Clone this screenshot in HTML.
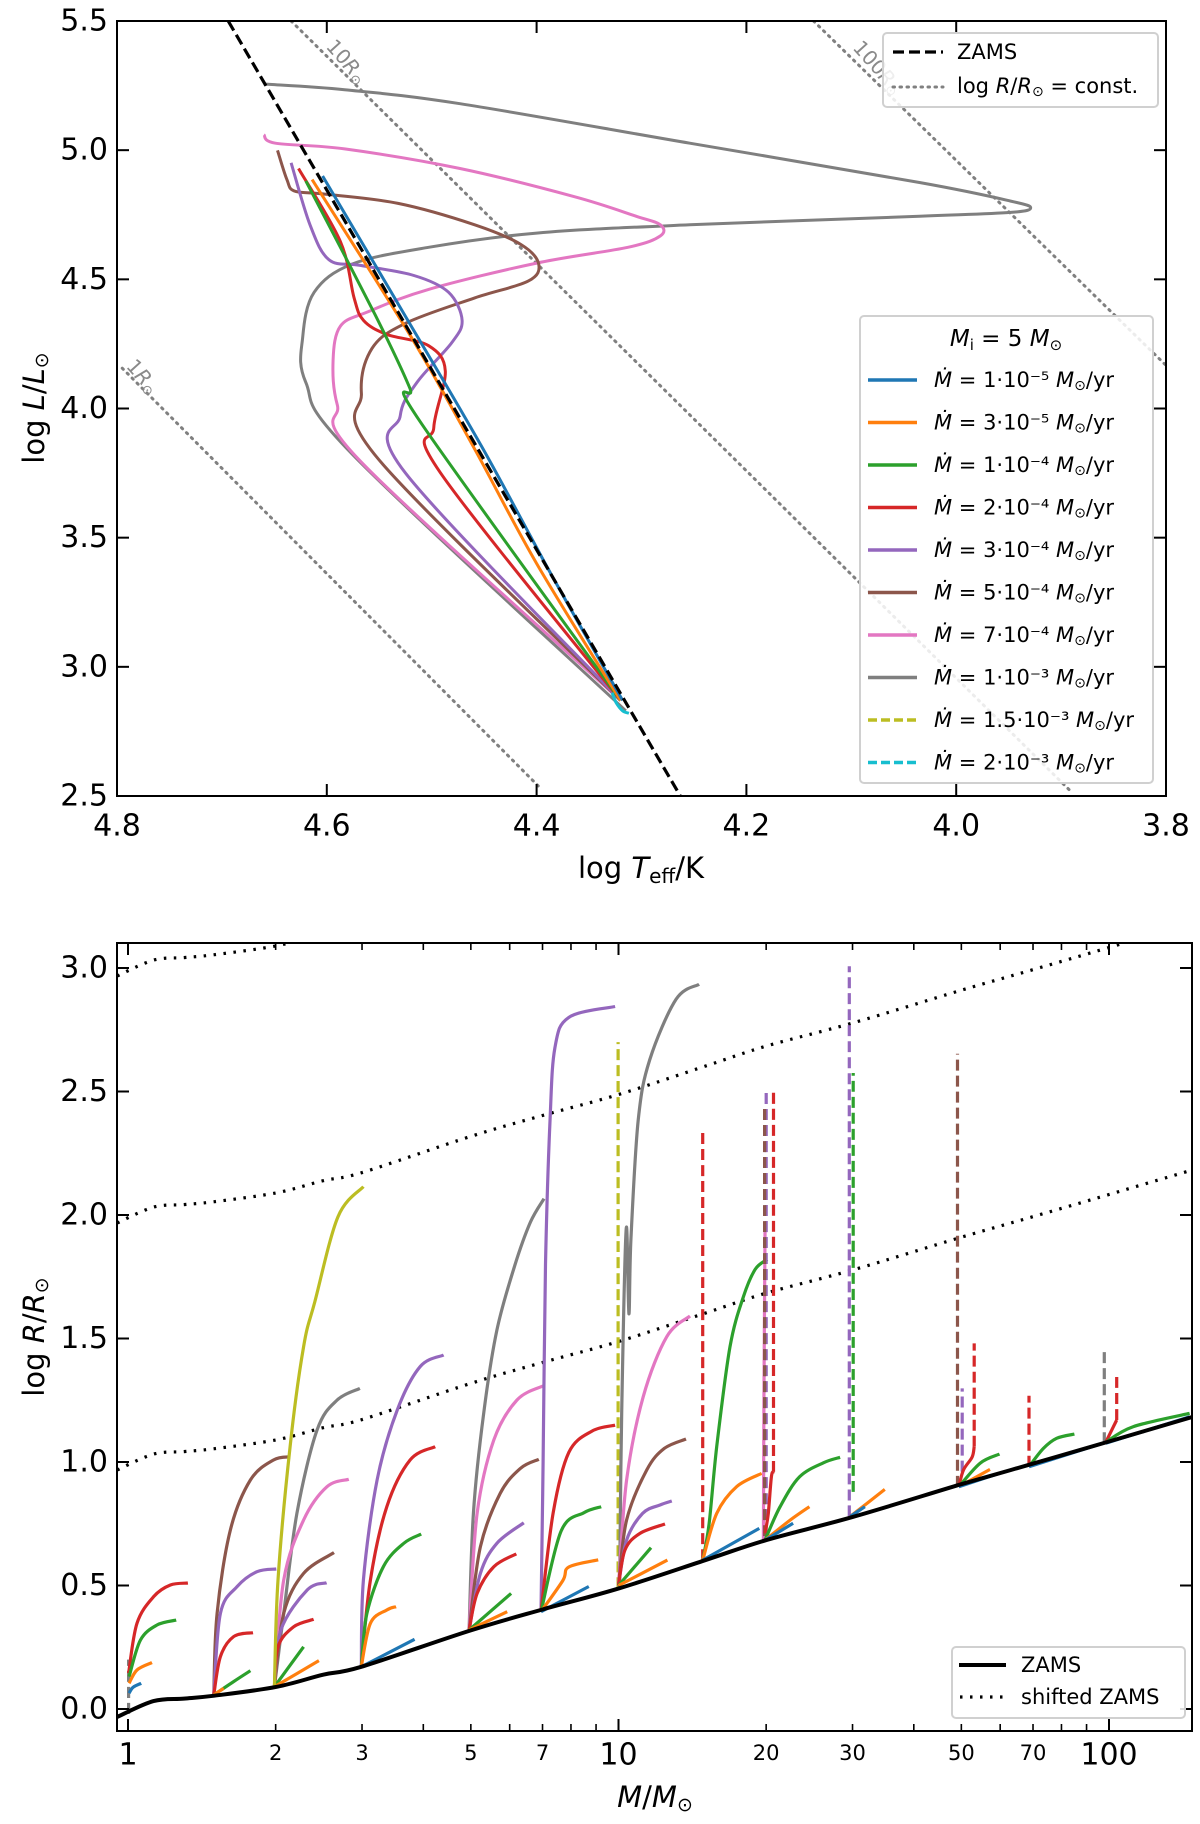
<!DOCTYPE html>
<html><head><meta charset="utf-8">
<style>
html,body{margin:0;padding:0;background:#fff;}
svg{display:block;font-family:"DejaVu Sans","Liberation Sans",sans-serif;}
</style></head>
<body>
<svg id="fig" width="1200" height="1824" viewBox="0 0 1200 1824" xmlns="http://www.w3.org/2000/svg">
<defs>
<clipPath id="clipTop"><rect x="117" y="21" width="1049" height="775"/></clipPath>
<clipPath id="clipBot"><rect x="117" y="943" width="1075" height="788"/></clipPath>
</defs>
<g id="topPanel"></g>
<g id="botPanel"></g>
</svg>
<script>
// ---------- TOP PANEL DATA ----------
const topXTicks = [4.8, 4.6, 4.4, 4.2, 4.0, 3.8];
const topXTickLabels = ["4.8","4.6","4.4","4.2","4.0","3.8"];
const topYTicks = [5.5, 5.0, 4.5, 4.0, 3.5, 3.0, 2.5];
const topYTickLabels = ["5.5","5.0","4.5","4.0","3.5","3.0","2.5"];
const zamsT = [4.694, 4.263];
const zamsL = [5.5, 2.5];
const r1T = [4.795, 4.397];  const r1L = [4.156, 2.533];
const r10T = [4.634, 3.889]; const r10L = [5.5, 2.511];
const r100T = [4.136, 3.800]; const r100L = [5.5, 4.167];
const hrBlueT = [4.318,4.385,4.452,4.524,4.604];
const hrBlueL = [2.87,3.35,3.85,4.35,4.90];
const hrOrangeT = [4.32,4.40,4.46,4.52,4.614];
const hrOrangeL = [2.87,3.40,3.85,4.28,4.886];
const hrGreenT = [4.32,4.511,4.521,4.554,4.620];
const hrGreenL = [2.87,3.949,4.080,4.363,4.881];
const hrRedT = [4.32,4.492,4.498,4.487,4.503,4.543,4.565,4.574,4.587,4.627];
const hrRedL = [2.87,3.753,3.927,4.145,4.243,4.287,4.341,4.428,4.646,4.929];
const hrPurpleT = [4.32,4.525,4.530,4.514,4.481,4.471,4.484,4.517,4.568,4.598,4.616,4.634];
const hrPurpleL = [2.87,3.75,3.971,4.101,4.254,4.341,4.450,4.515,4.554,4.576,4.711,4.951];
const hrBrownT = [4.32,4.55,4.567,4.557,4.525,4.459,4.408,4.398,4.415,4.459,4.532,4.605,4.631,4.638,4.647];
const hrBrownL = [2.87,3.80,4.058,4.232,4.330,4.428,4.493,4.559,4.635,4.711,4.794,4.831,4.842,4.886,4.999];
const hrPinkT = [4.32,4.568,4.590,4.594,4.587,4.561,4.503,4.400,4.313,4.282,4.282,4.305,4.364,4.473,4.583,4.649,4.660];
const hrPinkL = [2.87,3.796,4.014,4.188,4.319,4.374,4.461,4.563,4.624,4.668,4.711,4.744,4.820,4.929,5.005,5.027,5.060];
const hrGrayT = [4.315,4.575,4.620,4.623,4.612,4.576,4.503,4.400,4.254,4.035,3.948,3.929,3.948,4.035,4.254,4.473,4.583,4.660];
const hrGrayL = [2.83,3.82,4.101,4.276,4.450,4.559,4.624,4.679,4.711,4.744,4.759,4.777,4.803,4.875,5.027,5.180,5.234,5.256];
const hrCyanT = [4.328,4.324,4.318,4.312];
const hrCyanL = [2.90,2.86,2.83,2.82];
const legendRates = ["1·10⁻⁵","3·10⁻⁵","1·10⁻⁴","2·10⁻⁴","3·10⁻⁴","5·10⁻⁴","7·10⁻⁴","1·10⁻³","1.5·10⁻³","2·10⁻³"];

// ---------- BOTTOM PANEL DATA ----------
const botYTicks = [0.0,0.5,1.0,1.5,2.0,2.5,3.0];
const botYTickLabels = ["0.0","0.5","1.0","1.5","2.0","2.5","3.0"];
const botMajorTicks = [1,10,100];
const botMajorLabels = ["1","10","100"];
const botMinorLabeled = [2,3,5,7,20,30,50,70];
const botMinorLabels = ["2","3","5","7","20","30","50","70"];
const botMinorUnlabeled = [4,6,8,9,40,60,80,90];
const zamsM = [0.951,1.127,1.30,1.50,2.01,2.50,2.99,4.99,7.0,10.05,15.1,20.1,30.1,50.0,70.5,100,150];
const zamsR = [-0.032,0.032,0.042,0.054,0.090,0.139,0.171,0.318,0.403,0.489,0.604,0.685,0.778,0.910,0.995,1.083,1.186];
const zamsShifts = [1,2,3];

const C = {blue:"#1f77b4",orange:"#ff7f0e",green:"#2ca02c",red:"#d62728",purple:"#9467bd",brown:"#8c564b",pink:"#e377c2",gray:"#7f7f7f",olive:"#bcbd22",cyan:"#17becf"};

const bTracks = [
 {c:"gray",d:1,m:[1.003,1.003],r:[-0.02,0.20]},
 {c:"red",m:[1.003,1.043,1.128,1.22,1.325],r:[0.145,0.347,0.455,0.502,0.510]},
 {c:"green",m:[1.005,1.06,1.146,1.254],r:[0.131,0.279,0.340,0.360]},
 {c:"orange",m:[1.005,1.043,1.119],r:[0.104,0.158,0.188]},
 {c:"blue",m:[1.005,1.024,1.064],r:[0.064,0.088,0.104]},
 {c:"brown",m:[1.496,1.519,1.617,1.776,1.98,2.14],r:[0.057,0.387,0.725,0.927,1.008,1.021]},
 {c:"purple",m:[1.496,1.543,1.668,1.832,2.006],r:[0.057,0.387,0.495,0.556,0.567]},
 {c:"red",m:[1.496,1.543,1.642,1.798],r:[0.057,0.212,0.293,0.309]},
 {c:"green",m:[1.496,1.642,1.776],r:[0.057,0.111,0.155]},
 {c:"orange",m:[1.496,1.567],r:[0.057,0.084]},
 {c:"gray",m:[1.988,2.077,2.21,2.43,2.67,2.97],r:[0.09,0.387,0.792,1.130,1.251,1.298]},
 {c:"pink",m:[1.988,2.077,2.28,2.545,2.82],r:[0.09,0.522,0.765,0.900,0.930]},
 {c:"brown",m:[1.988,2.077,2.28,2.63],r:[0.09,0.387,0.549,0.633]},
 {c:"purple",m:[1.988,2.05,2.32,2.54],r:[0.09,0.320,0.482,0.511]},
 {c:"red",m:[1.988,2.022,2.177,2.39],r:[0.09,0.252,0.333,0.363]},
 {c:"green",m:[1.988,2.28],r:[0.09,0.252]},
 {c:"orange",m:[1.988,2.45],r:[0.09,0.196]},
 {c:"olive",m:[1.988,2.022,2.14,2.28,2.405,2.68,3.02],r:[0.09,0.522,1.062,1.467,1.65,1.993,2.115]},
 {c:"purple",m:[2.99,3.02,3.22,3.54,3.94,4.40],r:[0.171,0.522,0.927,1.211,1.386,1.433]},
 {c:"red",m:[2.99,3.12,3.37,3.76,4.23],r:[0.171,0.522,0.819,1.008,1.062]},
 {c:"green",m:[2.99,3.07,3.32,3.65,3.96],r:[0.171,0.387,0.578,0.671,0.708]},
 {c:"orange",m:[2.99,3.12,3.37,3.52],r:[0.171,0.347,0.401,0.414]},
 {c:"blue",m:[2.99,3.84],r:[0.171,0.282]},
 {c:"gray",m:[4.96,5.06,5.31,5.65,6.15,6.61,7.05],r:[0.32,0.792,1.197,1.534,1.797,1.97,2.066]},
 {c:"pink",m:[4.96,5.15,5.57,6.21,7.02],r:[0.32,0.792,1.089,1.251,1.308]},
 {c:"brown",m:[4.96,5.23,5.74,6.31,6.88],r:[0.32,0.657,0.873,0.974,1.011]},
 {c:"purple",m:[4.96,5.23,5.65,6.41],r:[0.32,0.549,0.671,0.754]},
 {c:"red",m:[4.96,5.15,5.57,6.19],r:[0.32,0.468,0.576,0.628]},
 {c:"green",m:[4.96,6.04],r:[0.32,0.468]},
 {c:"orange",m:[4.96,5.93],r:[0.32,0.394]},
 {c:"purple",m:[6.95,7.02,7.1,7.25,7.42,7.92,9.84],r:[0.394,1.0,1.8,2.38,2.677,2.80,2.844]},
 {c:"red",m:[6.95,7.36,7.92,8.83,9.84],r:[0.394,0.795,1.039,1.125,1.149]},
 {c:"green",m:[6.95,7.64,8.51,9.22],r:[0.394,0.721,0.795,0.819]},
 {c:"orange",m:[6.95,7.7,7.92,9.09],r:[0.394,0.52,0.575,0.604]},
 {c:"blue",m:[6.95,8.7],r:[0.394,0.496]},
 {c:"olive",d:1,m:[9.98,9.98],r:[0.489,2.70]},
 {c:"gray",m:[10.05,10.15,10.37,10.5,10.6,10.97,11.58,13.1,14.6],r:[0.489,1.2,1.944,1.60,1.9,2.384,2.628,2.873,2.934]},
 {c:"pink",m:[10.0,10.39,11.23,12.54,13.99],r:[0.50,0.927,1.264,1.507,1.591]},
 {c:"brown",m:[10.0,10.39,11.42,12.4,13.73],r:[0.50,0.765,0.968,1.055,1.093]},
 {c:"purple",m:[10.0,10.39,11.2,12.15,12.84],r:[0.50,0.684,0.792,0.826,0.842]},
 {c:"red",m:[10.0,10.31,11.06,12.44],r:[0.50,0.644,0.711,0.749]},
 {c:"green",m:[10.0,11.65],r:[0.50,0.653]},
 {c:"orange",m:[10.0,12.58],r:[0.50,0.603]},
 {c:"red",d:1,m:[14.85,14.85],r:[0.603,2.347]},
 {c:"green",m:[14.85,15.3,15.86,16.88,17.97,19.0,20.1],r:[0.603,0.75,1.062,1.467,1.669,1.78,1.82]},
 {c:"orange",m:[14.85,15.86,17.41,19.59],r:[0.603,0.792,0.900,0.954]},
 {c:"blue",m:[14.85,19.37],r:[0.603,0.731]},
 {c:"pink",m:[19.74,19.8,19.9],r:[0.684,1.3,1.97]},
 {c:"purple",d:1,m:[20.0,20.0],r:[0.70,2.506]},
 {c:"brown",d:1,m:[19.85,19.85],r:[0.70,2.445]},
 {c:"red",m:[19.9,20.2,20.5,20.7],r:[0.711,0.792,0.940,0.96]},
 {c:"red",d:1,m:[20.7,20.7],r:[0.96,2.506]},
 {c:"green",m:[19.9,21.35,23.4,26.2,28.3],r:[0.684,0.819,0.940,0.997,1.019]},
 {c:"orange",m:[19.9,22.4,24.5],r:[0.684,0.765,0.819]},
 {c:"blue",m:[19.9,22.7],r:[0.684,0.752]},
 {c:"purple",d:1,m:[29.55,29.55],r:[0.78,3.007]},
 {c:"green",d:1,m:[30.1,30.1],r:[0.879,2.575]},
 {c:"orange",m:[29.7,34.9],r:[0.78,0.889]},
 {c:"blue",m:[29.7,31.8],r:[0.78,0.819]},
 {c:"brown",d:1,m:[49.1,49.1],r:[0.90,2.653]},
 {c:"purple",d:1,m:[50.2,50.2],r:[0.961,1.298]},
 {c:"red",m:[49.4,50.5,52.6,53.1],r:[0.90,0.968,1.02,1.062]},
 {c:"red",d:1,m:[53.1,53.1],r:[1.062,1.48]},
 {c:"green",m:[49.4,54.6,59.8],r:[0.90,0.995,1.032]},
 {c:"orange",m:[49.4,57.2],r:[0.90,0.970]},
 {c:"blue",m:[49.4,60],r:[0.90,0.955]},
 {c:"red",d:1,m:[68.7,68.7],r:[0.981,1.268]},
 {c:"green",m:[68.7,73.5,78.2,85.0],r:[0.981,1.055,1.096,1.113]},
 {c:"blue",m:[68.7,95],r:[0.981,1.07]},
 {c:"gray",d:1,m:[97.8,97.8],r:[1.076,1.46]},
 {c:"red",m:[98.5,103.7],r:[1.08,1.170]},
 {c:"red",d:1,m:[103.7,103.7],r:[1.170,1.345]},
 {c:"blue",m:[98.5,146],r:[1.076,1.183]},
 {c:"green",m:[98.5,112,146],r:[1.08,1.143,1.197]}
];

// ---------- helpers ----------
const NS = "http://www.w3.org/2000/svg";
function el(tag, attrs, parent){
  const e = document.createElementNS(NS, tag);
  for (const k in attrs) e.setAttribute(k, attrs[k]);
  parent.appendChild(e);
  return e;
}
function smooth(pts){
  let d = "M" + pts[0][0].toFixed(1) + "," + pts[0][1].toFixed(1);
  for (let i = 0; i < pts.length - 1; i++){
    const p0 = pts[i-1] || pts[i], p1 = pts[i], p2 = pts[i+1], p3 = pts[i+2] || pts[i+1];
    const c1x = p1[0] + (p2[0]-p0[0])/6, c1y = p1[1] + (p2[1]-p0[1])/6;
    const c2x = p2[0] - (p3[0]-p1[0])/6, c2y = p2[1] - (p3[1]-p1[1])/6;
    d += " C" + c1x.toFixed(1)+","+c1y.toFixed(1)+" "+c2x.toFixed(1)+","+c2y.toFixed(1)+" "+p2[0].toFixed(1)+","+p2[1].toFixed(1);
  }
  return d;
}

// ---------- TOP PANEL ----------
const X0=117, X1=1166, Y0=21, Y1=796;
const xT = t => X0 + (4.8 - t) * (X1-X0) / 1.0;
const yL = l => Y0 + (5.5 - l) * (Y1-Y0) / 3.0;
const topG = document.getElementById("topPanel");
const topPlot = el("g", {"clip-path":"url(#clipTop)"}, topG);



function topLine(T, L, attrs, name){
  const pts = T.map((t,i)=>[xT(t), yL(L[i])]);
  const p = el("path", Object.assign({d: smooth(pts), fill:"none"}, attrs), topPlot);
  
  
  return p;
}
[[r1T,r1L,"radius-line-1rsun"],[r10T,r10L,"radius-line-10rsun"],[r100T,r100L,"radius-line-100rsun"]].forEach(a=>{
  const ln = el("line",{x1:xT(a[0][0]),y1:yL(a[1][0]),x2:xT(a[0][1]),y2:yL(a[1][1]),stroke:"#808080","stroke-width":3,"stroke-dasharray":"1.5 5.5","stroke-linecap":"round"},topPlot);
  
  
});
[["10R","346","62"],["100R","877","68"],["1R","142","377"]].forEach(a=>{
  const t = el("text",{x:a[1],y:a[2],"font-size":20,fill:"#8a8a8a","text-anchor":"middle","dominant-baseline":"middle",transform:`rotate(48 ${a[1]} ${a[2]})`},topG);
  
  
  t.innerHTML = a[0].replace("R","<tspan font-style='italic'>R</tspan>") + "<tspan font-size='13' dy='5'>⊙</tspan>";
});
topLine(hrGrayT, hrGrayL, {stroke:C.gray,"stroke-width":3}, "hr-track-1e-3");
topLine(hrPinkT, hrPinkL, {stroke:C.pink,"stroke-width":3}, "hr-track-7e-4");
topLine(hrBrownT, hrBrownL, {stroke:C.brown,"stroke-width":3}, "hr-track-5e-4");
topLine(hrPurpleT, hrPurpleL, {stroke:C.purple,"stroke-width":3}, "hr-track-3e-4");
topLine(hrRedT, hrRedL, {stroke:C.red,"stroke-width":3}, "hr-track-2e-4");
topLine(hrGreenT, hrGreenL, {stroke:C.green,"stroke-width":3}, "hr-track-1e-4");
topLine(hrOrangeT, hrOrangeL, {stroke:C.orange,"stroke-width":3}, "hr-track-3e-5");
topLine(hrBlueT, hrBlueL, {stroke:C.blue,"stroke-width":3}, "hr-track-1e-5");
topLine(hrCyanT, hrCyanL, {stroke:C.cyan,"stroke-width":3}, "hr-track-2e-3");
const zl = el("line",{x1:xT(zamsT[0]),y1:yL(zamsL[0]),x2:xT(zamsT[1]),y2:yL(zamsL[1]),stroke:"#000","stroke-width":3.2,"stroke-dasharray":"11 5"},topPlot);



const tf = el("rect",{x:X0,y:Y0,width:X1-X0,height:Y1-Y0,fill:"none",stroke:"#000","stroke-width":2},topG);


topXTicks.forEach((v,i)=>{
  const x = xT(v);
  el("line",{x1:x,y1:Y1,x2:x,y2:Y1-12,stroke:"#000","stroke-width":2},topG);
  el("line",{x1:x,y1:Y0,x2:x,y2:Y0+12,stroke:"#000","stroke-width":2},topG);
  const t = el("text",{x:x,y:827,"font-size":30,"text-anchor":"middle","dominant-baseline":"middle"},topG);
  
  
  t.textContent = topXTickLabels[i];
});
topYTicks.forEach((v,i)=>{
  const y = yL(v);
  el("line",{x1:X0,y1:y,x2:X0+12,y2:y,stroke:"#000","stroke-width":2},topG);
  el("line",{x1:X1,y1:y,x2:X1-12,y2:y,stroke:"#000","stroke-width":2},topG);
  const t = el("text",{x:108,y:y+1,"font-size":30,"text-anchor":"end","dominant-baseline":"middle"},topG);
  
  
  t.textContent = topYTickLabels[i];
});
const txl = el("text",{x:641,y:870,"font-size":29,"text-anchor":"middle","dominant-baseline":"middle"},topG);


txl.innerHTML = "log <tspan font-style='italic'>T</tspan><tspan font-size='20' dy='7'>eff</tspan><tspan dy='-7'>/K</tspan>";
const tyl = el("text",{x:36,y:408,"font-size":29,"text-anchor":"middle","dominant-baseline":"middle",transform:"rotate(-90 36 408)"},topG);


tyl.innerHTML = "log <tspan font-style='italic'>L</tspan>/<tspan font-style='italic'>L</tspan><tspan font-size='19' dy='6'>⊙</tspan>";

const lg1 = el("g",{},topG);


el("rect",{x:883,y:33,width:275,height:74,rx:4,fill:"#fff","fill-opacity":0.85,stroke:"#d0d0d0","stroke-width":2},lg1);
el("line",{x1:893,y1:52,x2:943,y2:52,stroke:"#000","stroke-width":3.2,"stroke-dasharray":"11 5"},lg1);
el("line",{x1:893,y1:87,x2:943,y2:87,stroke:"#808080","stroke-width":3,"stroke-dasharray":"1.5 5.5","stroke-linecap":"round"},lg1);
const l1a = el("text",{x:957,y:53,"font-size":21,"dominant-baseline":"middle"},lg1);


l1a.textContent = "ZAMS";
const l1b = el("text",{x:957,y:87,"font-size":21,"dominant-baseline":"middle"},lg1);


l1b.innerHTML = "log <tspan font-style='italic'>R</tspan>/<tspan font-style='italic'>R</tspan><tspan font-size='14' dy='5'>⊙</tspan><tspan dy='-5'> =  const.</tspan>";

const lg2 = el("g",{},topG);


el("rect",{x:860,y:316,width:293,height:467,rx:4,fill:"#fff","fill-opacity":0.85,stroke:"#d0d0d0","stroke-width":2},lg2);
const ttl = el("text",{x:1006,y:339,"font-size":23,"text-anchor":"middle","dominant-baseline":"middle"},lg2);


ttl.innerHTML = "<tspan font-style='italic'>M</tspan><tspan font-size='15' dy='6'>i</tspan><tspan dy='-6'> = 5 </tspan><tspan font-style='italic'>M</tspan><tspan font-size='15' dy='6'>⊙</tspan>";
const legColors = [C.blue,C.orange,C.green,C.red,C.purple,C.brown,C.pink,C.gray,C.olive,C.cyan];
legendRates.forEach((r,i)=>{
  const y = 380 + i*42.5;
  const ln = el("line",{x1:868,y1:y,x2:917,y2:y,stroke:legColors[i],"stroke-width":3.5},lg2);
  if (i>=8) ln.setAttribute("stroke-dasharray","9 4");
  
  
  const t = el("text",{x:934,y:y+1,"font-size":21,"dominant-baseline":"middle"},lg2);
  
  
  t.innerHTML = "<tspan font-style='italic'>Ṁ</tspan> = " + r + " <tspan font-style='italic'>M</tspan><tspan font-size='14' dy='5'>⊙</tspan><tspan dy='-5'>/yr</tspan>";
});

// ---------- BOTTOM PANEL ----------
const BX0=117, BX1=1192, BY0=943, BY1=1731;
const xM = m => 128 + Math.log10(m) * 490.5;
const yR = r => 1709 - r * 247;
const botG = document.getElementById("botPanel");
const botPlot = el("g", {"clip-path":"url(#clipBot)"}, botG);



zamsShifts.forEach(s=>{
  const pts = zamsM.map((m,i)=>[xM(m), yR(zamsR[i]+s)]);
  const p = el("path",{d:smooth(pts),fill:"none",stroke:"#000","stroke-width":3.2,"stroke-dasharray":"2.5 7.5"},botPlot);
  
  
});
bTracks.forEach(tr=>{
  const pts = tr.m.map((m,i)=>[xM(m), yR(tr.r[i])]);
  const p = el("path",{d:smooth(pts),fill:"none",stroke:C[tr.c],"stroke-width":3.2},botPlot);
  if (tr.d) p.setAttribute("stroke-dasharray","11 5");
  
  
});
{
  const pts = zamsM.map((m,i)=>[xM(m), yR(zamsR[i])]);
  const p = el("path",{d:smooth(pts),fill:"none",stroke:"#000","stroke-width":4},botPlot);
  
  
}
const bf = el("rect",{x:BX0,y:BY0,width:BX1-BX0,height:BY1-BY0,fill:"none",stroke:"#000","stroke-width":2},botG);


botYTicks.forEach((v,i)=>{
  const y = yR(v);
  el("line",{x1:BX0,y1:y,x2:BX0+12,y2:y,stroke:"#000","stroke-width":2},botG);
  el("line",{x1:BX1,y1:y,x2:BX1-12,y2:y,stroke:"#000","stroke-width":2},botG);
  const t = el("text",{x:108,y:y+1,"font-size":30,"text-anchor":"end","dominant-baseline":"middle"},botG);
  
  
  t.textContent = botYTickLabels[i];
});
botMajorTicks.forEach((v,i)=>{
  const x = xM(v);
  el("line",{x1:x,y1:BY1,x2:x,y2:BY1-12,stroke:"#000","stroke-width":2},botG);
  el("line",{x1:x,y1:BY0,x2:x,y2:BY0+12,stroke:"#000","stroke-width":2},botG);
  const t = el("text",{x:x,y:1756,"font-size":30,"text-anchor":"middle","dominant-baseline":"middle"},botG);
  
  
  t.textContent = botMajorLabels[i];
});
botMinorLabeled.forEach((v,i)=>{
  const x = xM(v);
  el("line",{x1:x,y1:BY1,x2:x,y2:BY1-7,stroke:"#000","stroke-width":1.6},botG);
  el("line",{x1:x,y1:BY0,x2:x,y2:BY0+7,stroke:"#000","stroke-width":1.6},botG);
  const t = el("text",{x:x,y:1754,"font-size":21,"text-anchor":"middle","dominant-baseline":"middle"},botG);
  
  
  t.textContent = botMinorLabels[i];
});
botMinorUnlabeled.forEach(v=>{
  const x = xM(v);
  el("line",{x1:x,y1:BY1,x2:x,y2:BY1-7,stroke:"#000","stroke-width":1.6},botG);
  el("line",{x1:x,y1:BY0,x2:x,y2:BY0+7,stroke:"#000","stroke-width":1.6},botG);
});
const bxl = el("text",{x:655,y:1799,"font-size":29,"text-anchor":"middle","dominant-baseline":"middle"},botG);


bxl.innerHTML = "<tspan font-style='italic'>M</tspan>/<tspan font-style='italic'>M</tspan><tspan font-size='19' dy='6'>⊙</tspan>";
const byl = el("text",{x:36,y:1337,"font-size":29,"text-anchor":"middle","dominant-baseline":"middle",transform:"rotate(-90 36 1337)"},botG);


byl.innerHTML = "log <tspan font-style='italic'>R</tspan>/<tspan font-style='italic'>R</tspan><tspan font-size='19' dy='6'>⊙</tspan>";

const lg3 = el("g",{},botG);


el("rect",{x:952,y:1647,width:233,height:71,rx:4,fill:"#fff","fill-opacity":0.85,stroke:"#d0d0d0","stroke-width":2},lg3);
el("line",{x1:959,y1:1665,x2:1006,y2:1665,stroke:"#000","stroke-width":4},lg3);
el("line",{x1:960,y1:1697,x2:1006,y2:1697,stroke:"#000","stroke-width":3.2,"stroke-dasharray":"2.5 7.5"},lg3);
const lz = el("text",{x:1021,y:1666,"font-size":21,"dominant-baseline":"middle"},lg3);


lz.textContent = "ZAMS";
const ls = el("text",{x:1021,y:1698,"font-size":21,"dominant-baseline":"middle"},lg3);


ls.textContent = "shifted ZAMS";
</script>
</body></html>
